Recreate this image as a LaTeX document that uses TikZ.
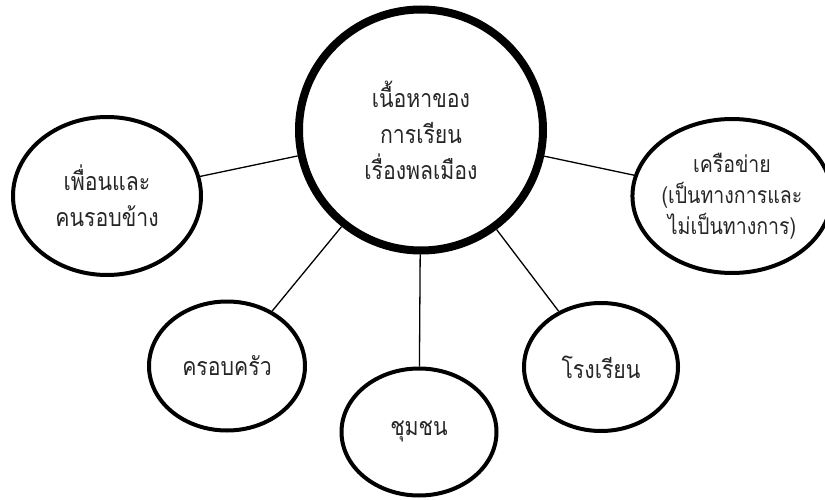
\documentclass[tikz,border=0pt]{standalone}
\usepackage{fontspec}
\newfontfamily\thaifont[Script=Thai, FakeStretch=0.85]{Loma}
\usepackage{tikz}
\usetikzlibrary{shapes.geometric}

\begin{document}
\begin{tikzpicture}[x=1pt, y=-1pt,
	topic/.style = {draw, ellipse, line width = 4pt, align = center, inner sep = 0pt,
		text = black!85, font = \thaifont\fontsize{25}{36}\selectfont},
	link/.style = {line width = 1.3pt}]
	\useasboundingbox (0,0) rectangle (825,500);
	\node [topic, line width = 8pt, minimum width = 244, minimum height = 241] (main) at (421,130) {เนื้อหาของ\\การเรียน\\เรื่องพลเมือง};
	\node [topic, minimum width = 188, minimum height = 158] (friends) at (107,196) {เพื่อนและ\\คนรอบข้าง};
	\node [topic, minimum width = 156, minimum height = 129] (family) at (227,366) {ครอบครัว};
	\node [topic, minimum width = 155, minimum height = 127] (community) at (419,432) {ชุมชน};
	\node [topic, minimum width = 154, minimum height = 128] (school) at (601,367) {โรงเรียน};
	\node [topic, minimum width = 180, minimum height = 154, font = \thaifont\fontsize{23}{31}\selectfont] (network) at (732,196) {เครือข่าย\\(เป็นทางการและ\\ไม่เป็นทางการ)};

	\draw [link] (friends) -- (main);
	\draw [link] (family) -- (main);
	\draw [link] (community) -- (main);
	\draw [link] (school) -- (main);
	\draw [link] (network) -- (main);
\end{tikzpicture}
\end{document}
